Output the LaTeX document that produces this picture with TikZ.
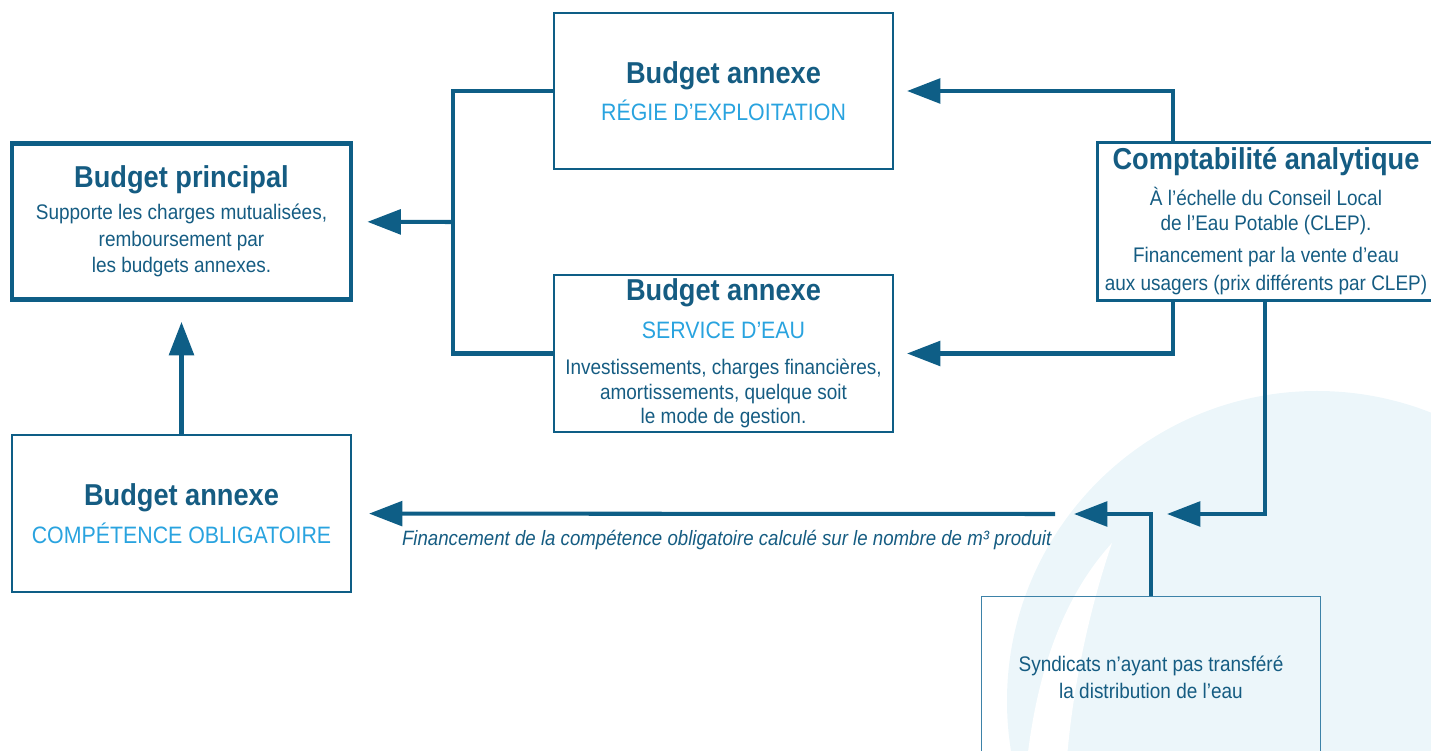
\documentclass[tikz,border=0pt]{standalone}
\usepackage{fontspec}
\setmainfont{Liberation Sans}[FakeStretch=0.9]
\usetikzlibrary{arrows.meta}

\definecolor{linecol}{HTML}{0E5E86}
\definecolor{textcol}{HTML}{155C82}
\definecolor{capcol}{HTML}{29A3DF}
\definecolor{palecol}{HTML}{ECF6FA}
\definecolor{syndcol}{HTML}{3D82A8}

\newcommand{\bdgtitle}{\fontsize{17.2}{20}\selectfont\bfseries}
\newcommand{\bdgcaps}{\fontsize{13.5}{16}\selectfont\color{capcol}}
\newcommand{\bdgbody}{\fontsize{12}{15.2}\selectfont}

\tikzset{
  >={Triangle[length=19pt,width=14pt]},
  box/.style={rectangle,draw=linecol,line width=1.2pt,minimum width=6.78cm,
    minimum height=3.12cm,align=center,font=\bdgbody,text=textcol,inner sep=0pt},
  flow/.style={draw=linecol,line width=2.3pt},
}

\begin{document}
\begin{tikzpicture}
	\clip (0,0) rectangle (28.62,-15.02);
	% background
	\fill[palecol] (26.34,-14.02) circle (6.2);
	\fill[white] (22.24,-10.86) .. controls (21.2,-12.0) and (20.7,-13.6) .. (20.52,-15.4)
		-- (21.32,-15.4) .. controls (21.45,-13.6) and (21.85,-12.0) .. (22.24,-10.86);

	\node[box,line width=2.8pt] (prin) at (3.63,-4.43) {{\bdgtitle Budget principal}\\[3pt] Supporte les charges mutualisées,\\ remboursement par\\ les budgets annexes.};
	\node[box] (regie) at (14.47,-1.82) {{\bdgtitle Budget annexe}\\[5pt] {\bdgcaps RÉGIE D’EXPLOITATION}};
	\node[box,minimum height=3.14cm] (service) at (14.47,-7.07) {{\bdgtitle Budget annexe}\\[6.5pt] {\bdgcaps SERVICE D’EAU}\\[5pt] Investissements, charges financières,\\[-1.2pt] amortissements, quelque soit\\[-1.2pt] le mode de gestion.};
	\node[box,line width=1.7pt,minimum width=6.74cm,minimum height=3.16cm] (compta) at (25.32,-4.43) {{\bdgtitle Comptabilité analytique}\\[5pt] À l’échelle du Conseil Local\\[-1pt] de l’Eau Potable (CLEP).\\[3pt] Financement par la vente d’eau\\[1pt] aux usagers (prix différents par CLEP)};
	\node[box,minimum height=3.14cm] (compet) at (3.63,-10.27) {{\bdgtitle Budget annexe}\\[5.5pt] {\bdgcaps COMPÉTENCE OBLIGATOIRE}};
	\node[box,draw=syndcol,line width=0.8pt,minimum height=3.22cm] (synd) at (23.02,-13.54) {Syndicats n’ayant pas transféré\\ la distribution de l’eau};

	\coordinate (jl) at (9.06,-4.44);
	\coordinate (kx) at (23.46,0);
	\coordinate (kx2) at (25.30,0);
	\coordinate (jr) at (23.34,-10.28);
	\coordinate (jm) at (21.48,-10.28);
	\coordinate (js) at (21.10,-10.28);

	\path[flow] (regie.west) -| (jl) |- (service.west);
	\path[flow,->,shorten >=0.28cm] (jl) -- (prin);
	\path[flow,->,shorten >=0.4cm] (compet) -- (prin);
	\path[flow,->,shorten >=0.26cm] (compta.north -| kx) |- (regie);
	\path[flow,->,shorten >=0.26cm] (compta.south -| kx) |- (service);
	\path[flow,->] (compta.south -| kx2) |- (jr);
	\path[flow,->] (synd.north) |- (jm);
	\path[flow,->,shorten >=0.34cm] (js) -- node[pos=0.467,below=5pt,font={\fontsize{11.8}{14}\selectfont\itshape},text=textcol] (note) {Financement de la compétence obligatoire calculé sur le nombre de m³ produit} (compet);
\end{tikzpicture}
\end{document}
